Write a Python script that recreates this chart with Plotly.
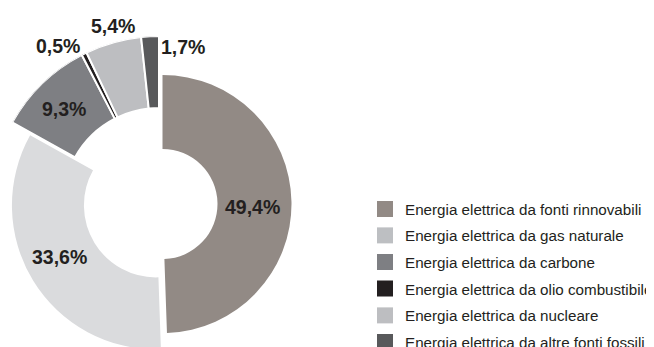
import math
import plotly.graph_objects as go

# ─────────────────────────────────
# Dati
# ─────────────────────────────────
labels = [
    "Energia elettrica da fonti rinnovabili",
    "Energia elettrica da gas naturale",
    "Energia elettrica da carbone",
    "Energia elettrica da olio combustibile",
    "Energia elettrica da nucleare",
    "Energia elettrica da altre fonti fossili",
]
values = [49.4, 33.6, 9.3, 0.5, 5.4, 1.7]
colors = ["#928a85", "#dadbdd", "#7e7f83", "#231f20", "#bdbec1", "#58595b"]
legend_colors = ["#928a85", "#bdbfc2", "#7e7f83", "#231f20", "#bdbec1", "#58595b"]

# ─────────────────────────────────
# Stile / geometria (pixel della pagina; il body ha 8px di margine)
# ─────────────────────────────────
W, H = 654, 347
OFF = 8
TEXT = "#231f20"
LABEL_FONT = dict(family="Liberation Sans", size=19.5, color=TEXT, weight="bold")
LEGEND_FONT = dict(family="Liberation Sans", size=15.2, color=TEXT)
CLEAR = "rgba(0,0,0,0)"
LEG_BW = 8  # bordo trasparente: dà spazio al testo più lungo


def px2paper(x, y):
    return (x - OFF) / W, 1 - (y - OFF) / H


def pct(v):
    return f"{v:.1f}".replace(".", ",") + "%"


def add_ring_pie(fig, show, cx, cy, R, r, pull=0.0):
    """Un anello del donut: solo le fette in `show` sono visibili."""
    half = R * (1 + pull)
    xa, ya = px2paper(cx - half, cy + half)
    xb, yb = px2paper(cx + half, cy - half)
    fig.add_trace(go.Pie(
        labels=labels, values=values, sort=False, direction="clockwise",
        domain=dict(x=[max(0, xa), min(1, xb)], y=[max(0, ya), min(1, yb)]), hole=r / R,
        marker=dict(colors=[colors[i] if i in show else CLEAR for i in range(len(values))],
                    line=dict(width=0)),
        pull=[pull if i in show else 0 for i in range(len(values))],
        textinfo="none", showlegend=False, hoverinfo="label+percent",
    ))


def sector_bbox(s0, s1):
    pts = [(0.0, 0.0)]
    for a in (s0, s1):
        pts.append((math.cos(math.radians(a)), math.sin(math.radians(a))))
    for a in (0, 90, 180, 270, 360, 450):
        if s0 <= a <= s1:
            pts.append((math.cos(math.radians(a)), math.sin(math.radians(a))))
    xs = [p[0] for p in pts]
    ys = [p[1] for p in pts]
    return min(xs), min(ys), max(xs), max(ys)


fig = go.Figure()

# anello 1: rinnovabili
add_ring_pie(fig, [0], cx=162.5, cy=204, R=129, r=55)
# anello 2: gas naturale (un po' staccato verso il basso a sinistra)
add_ring_pie(fig, [1], cx=159, cy=203.5, R=144, r=72, pull=0.025)

# anello 3: fette piccole in alto (barpolar su un settore)
total = sum(values)
cum = [sum(values[:i]) for i in range(len(values))]
small = [2, 3, 4, 5]
theta = [(cum[i] + values[i] / 2) / total * 360 for i in small]
width = [values[i] / total * 360 for i in small]
CX, CY, R3, r3 = 159, 204, 168, 96
th0 = cum[small[0]] / total * 360
th1 = (cum[small[-1]] + values[small[-1]]) / total * 360
sector = [(90 - th1) % 360 - 1, (90 - th0) % 360 + 1]
x0, y0, x1, y1 = sector_bbox(*sector)
dx0, dy0 = px2paper(CX + R3 * x0, CY - R3 * y0)
dx1, dy1 = px2paper(CX + R3 * x1, CY - R3 * y1)

fig.add_trace(go.Barpolar(
    theta=theta, width=width, r=[R3 - r3] * len(small), base=r3,
    marker=dict(color=[colors[i] for i in small], line=dict(color="white", width=2)),
    text=[labels[i] for i in small], hoverinfo="text", showlegend=False,
))

# legenda: una legenda per riga, così il passo verticale è quello del riferimento
row_y = [209, 235.5, 262, 288.7, 315.5, 342]
legends = {}
for k, (lab, col, ry) in enumerate(zip(labels, legend_colors, row_y)):
    key = "legend" if k == 0 else f"legend{k + 1}"
    fig.add_trace(go.Scatter(
        x=[None], y=[None], mode="markers", name=lab, legend=key,
        marker=dict(symbol="square", size=16, color=col),
    ))
    lx, ly = px2paper(365 - LEG_BW, ry)
    legends[key] = dict(x=lx, y=ly, xanchor="left", yanchor="middle",
                        font=LEGEND_FONT, bgcolor=CLEAR,
                        borderwidth=LEG_BW, bordercolor=CLEAR)

# etichette percentuali
label_pos = {0: (252, 207), 1: (59, 257), 2: (64, 109), 3: (58, 46), 4: (113, 26), 5: (183, 47)}
annotations = []
for i, (lx, ly) in label_pos.items():
    ax, ay = px2paper(lx, ly)
    annotations.append(dict(text=pct(values[i]), x=ax, y=ay, xref="paper", yref="paper",
                            xanchor="center", yanchor="middle", showarrow=False,
                            font=LABEL_FONT))

fig.update_layout(
    width=W, height=H,
    margin=dict(l=0, r=0, t=0, b=0, autoexpand=False),
    paper_bgcolor="white", plot_bgcolor="white",
    xaxis=dict(visible=False), yaxis=dict(visible=False),
    polar=dict(
        sector=sector, bgcolor=CLEAR,
        domain=dict(x=[dx0, dx1], y=[dy0, dy1]),
        radialaxis=dict(range=[0, R3], visible=False, showgrid=False),
        angularaxis=dict(rotation=90, direction="clockwise", visible=False, showgrid=False),
    ),
    showlegend=True,
    annotations=annotations,
    **legends,
)

fig.write_html("out.html")
